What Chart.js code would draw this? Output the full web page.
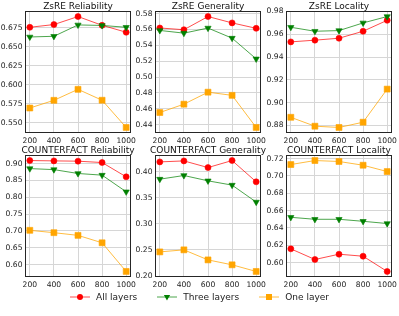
<!DOCTYPE html>
<html>
<head>
<meta charset="utf-8">
<script src="https://cdn.jsdelivr.net/npm/chart.js@4.4.0/dist/chart.umd.min.js"></script>
<style>
html,body{margin:0;padding:0;background:#fff;width:399px;height:316px;overflow:hidden;position:relative;font-family:"DejaVu Sans",sans-serif}
canvas{position:absolute}
#legend{position:absolute;left:0;top:291px;width:399px;height:12px;display:flex;justify-content:center;align-items:center;font-size:9px;color:#222;white-space:nowrap}
.item{display:flex;align-items:center;margin:0 10px}
.item svg{margin-right:6px}
</style>
</head>
<body>
<canvas id="c0" width="148" height="152"></canvas>
<canvas id="c1" width="148" height="152"></canvas>
<canvas id="c2" width="148" height="152"></canvas>
<canvas id="c3" width="148" height="152"></canvas>
<canvas id="c4" width="148" height="152"></canvas>
<canvas id="c5" width="148" height="152"></canvas>
<div id="legend"></div>
<script>
/* ---------- data ---------- */
const XS = [200, 400, 600, 800, 1000];
const SERIES = ["All layers", "Three layers", "One layer"];

const ZSRE_REL_ALL   = [0.6754, 0.6790, 0.6895, 0.6780, 0.6689];
const ZSRE_REL_THREE = [0.6627, 0.6636, 0.6785, 0.6778, 0.6754];
const ZSRE_REL_ONE   = [0.5695, 0.5796, 0.5940, 0.5797, 0.5440];

const ZSRE_GEN_ALL   = [0.5618, 0.5596, 0.5762, 0.5682, 0.5614];
const ZSRE_GEN_THREE = [0.5587, 0.5553, 0.5617, 0.5490, 0.5229];
const ZSRE_GEN_ONE   = [0.4554, 0.4659, 0.4810, 0.4770, 0.4366];

const ZSRE_LOC_ALL   = [0.9533, 0.9548, 0.9565, 0.9626, 0.9722];
const ZSRE_LOC_THREE = [0.9661, 0.9626, 0.9632, 0.9699, 0.9755];
const ZSRE_LOC_ONE   = [0.8872, 0.8794, 0.8783, 0.8829, 0.9119];

const CF_REL_ALL   = [0.9089, 0.9079, 0.9070, 0.9030, 0.8606];
const CF_REL_THREE = [0.8850, 0.8820, 0.8705, 0.8656, 0.8163];
const CF_REL_ONE   = [0.7020, 0.6950, 0.6870, 0.6650, 0.5800];

const CF_GEN_ALL   = [0.4184, 0.4203, 0.4076, 0.4210, 0.3803];
const CF_GEN_THREE = [0.3854, 0.3924, 0.3822, 0.3740, 0.3416];
const CF_GEN_ONE   = [0.2463, 0.2502, 0.2310, 0.2216, 0.2089];

const CF_LOC_ALL   = [0.6158, 0.6035, 0.6096, 0.6073, 0.5897];
const CF_LOC_THREE = [0.6522, 0.6499, 0.6499, 0.6476, 0.6450];
const CF_LOC_ONE   = [0.7131, 0.7177, 0.7166, 0.7123, 0.7050];

const TITLES = ["ZsRE Reliability", "ZsRE Generality", "ZsRE Locality",
                "COUNTERFACT Reliability", "COUNTERFACT Generality", "COUNTERFACT Locality"];

const Y_TICKS = [
  [0.550, 0.575, 0.600, 0.625, 0.650, 0.675],
  [0.44, 0.46, 0.48, 0.50, 0.52, 0.54, 0.56, 0.58],
  [0.88, 0.90, 0.92, 0.94, 0.96, 0.98],
  [0.60, 0.65, 0.70, 0.75, 0.80, 0.85, 0.90],
  [0.20, 0.25, 0.30, 0.35, 0.40],
  [0.60, 0.62, 0.64, 0.66, 0.68, 0.70, 0.72]
];
const Y_DEC = [3, 2, 2, 2, 2, 2];

const PANEL_DATA = [
  [ZSRE_REL_ALL, ZSRE_REL_THREE, ZSRE_REL_ONE],
  [ZSRE_GEN_ALL, ZSRE_GEN_THREE, ZSRE_GEN_ONE],
  [ZSRE_LOC_ALL, ZSRE_LOC_THREE, ZSRE_LOC_ONE],
  [CF_REL_ALL, CF_REL_THREE, CF_REL_ONE],
  [CF_GEN_ALL, CF_GEN_THREE, CF_GEN_ONE],
  [CF_LOC_ALL, CF_LOC_THREE, CF_LOC_ONE]
];

/* ---------- styling / layout ---------- */
const COLORS      = ["#ff0000", "#008000", "#ffa500"];
const LINE_COLORS = ["rgba(255,0,0,.7)", "rgba(0,128,0,.7)", "rgba(255,165,0,.75)"];
const MARKERS     = [{style:"circle", r:3.0, rot:0}, {style:"triangle", r:3.6, rot:180}, {style:"rect", r:4.2, rot:0}];

const COL_X = [25, 155, 286], ROW_Y = [11, 155];
const AX_W = 28, TOP_H = 16, XAX_H = 14, PAD_R = 14;
const FONT = "DejaVu Sans";

/* ---------- helpers ---------- */
const yRange = rows => {
  const v = rows.flat();
  const lo = Math.min(...v), hi = Math.max(...v), m = (hi - lo) * 0.05;
  return [lo - m, hi + m];
};

const framePlugin = {
  id: "frame",
  afterDraw(c){
    const a = c.chartArea, x = c.ctx;
    x.save();
    x.strokeStyle = "#262626"; x.lineWidth = 1;
    x.strokeRect(a.left + 0.5, a.top + 0.5, a.right - a.left - 1, a.bottom - a.top - 1);
    x.restore();
  }
};
const titlePlugin = {
  id: "panelTitle",
  afterDraw(c, args, opts){
    const a = c.chartArea, x = c.ctx;
    x.save();
    x.font = `9px "${FONT}"`; x.fillStyle = "#111";
    x.textAlign = "center"; x.textBaseline = "alphabetic";
    x.fillText(opts.text, (a.left + a.right) / 2, a.top - 2.5);
    x.restore();
  }
};

/* ---------- build the six panels ---------- */
Chart.defaults.font.family = FONT;

PANEL_DATA.forEach((rows, i) => {
  const cv = document.getElementById("c" + i);
  cv.style.left = (COL_X[i % 3] - AX_W) + "px";
  cv.style.top  = (ROW_Y[Math.floor(i / 3)] - TOP_H) + "px";
  const [ymin, ymax] = yRange(rows);

  const datasets = rows.map((vals, k) => ({
    label: SERIES[k],
    data: XS.map((x, j) => ({x, y: vals[j]})),
    borderColor: LINE_COLORS[k], borderWidth: 1,
    backgroundColor: COLORS[k],
    pointBackgroundColor: COLORS[k], pointBorderColor: COLORS[k], pointBorderWidth: 0.6,
    pointStyle: MARKERS[k].style, pointRadius: MARKERS[k].r, pointRotation: MARKERS[k].rot,
    order: 3 - k, tension: 0
  }));

  new Chart(cv, {
    type: "line",
    data: {datasets},
    plugins: [framePlugin, titlePlugin],
    options: {
      responsive: false, animation: false,
      layout: {padding: {top: TOP_H, right: PAD_R, left: 0, bottom: 0}},
      plugins: {legend: {display: false}, tooltip: {enabled: false}, panelTitle: {text: TITLES[i]}},
      scales: {
        x: {
          type: "linear", min: 160, max: 1040,
          afterBuildTicks: s => { s.ticks = XS.map(v => ({value: v})); },
          afterFit: s => { s.height = XAX_H; },
          grid: {color: "#d6d6d6", lineWidth: 1, drawTicks: false},
          border: {display: false},
          ticks: {font: {size: 7.6}, color: "#222", padding: 3, maxRotation: 0, callback: v => String(v)}
        },
        y: {
          min: ymin, max: ymax,
          afterBuildTicks: s => { s.ticks = Y_TICKS[i].map(v => ({value: v})); },
          afterFit: s => { s.width = AX_W; },
          grid: {color: "#d6d6d6", lineWidth: 1, drawTicks: false},
          border: {display: false},
          ticks: {font: {size: 7.6}, color: "#222", padding: 2.5, callback: v => v.toFixed(Y_DEC[i])}
        }
      }
    }
  });
});

/* ---------- legend ---------- */
const markerSvg = k => {
  const c = COLORS[k];
  let m;
  if(k === 0) m = `<circle cx="10" cy="5" r="3" fill="${c}"/>`;
  else if(k === 1) m = `<polygon points="6.9,3 13.1,3 10,8.4" fill="${c}"/>`;
  else m = `<rect x="7" y="2" width="6" height="6" fill="${c}"/>`;
  return `<svg width="20" height="10"><line x1="0" y1="5" x2="20" y2="5" stroke="${LINE_COLORS[k]}" stroke-width="1"/>${m}</svg>`;
};
document.getElementById("legend").innerHTML =
  SERIES.map((s, k) => `<div class="item">${markerSvg(k)}<span>${s}</span></div>`).join("");
</script>
</body>
</html>
